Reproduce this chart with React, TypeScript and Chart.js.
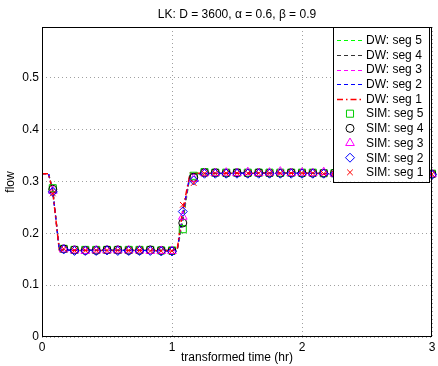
import React, { useEffect, useRef } from 'react';
import { Chart, registerables } from 'chart.js';

Chart.register(...registerables);

const titleText = 'LK: D = 3600, \u03b1 = 0.6, \u03b2 = 0.9';
const xLabel = 'transformed time (hr)';
const yLabel = 'flow';
const xTicks = [0, 1, 2, 3];
const yTicks = [0, 0.1, 0.2, 0.3, 0.4, 0.5];

// DW model curves
const dwTimes = [0, 0.05, 0.083, 0.133, 0.25, 0.5, 0.75, 1.0, 1.04, 1.083, 1.14, 1.5, 2.0, 2.5, 3.0];
const dwSeg5 = [0.315, 0.315, 0.284, 0.169, 0.168, 0.167, 0.167, 0.167, 0.167, 0.222, 0.314, 0.316, 0.316, 0.314, 0.314];
const dwSeg4 = [0.315, 0.315, 0.283, 0.169, 0.168, 0.167, 0.167, 0.167, 0.168, 0.228, 0.315, 0.316, 0.316, 0.314, 0.314];
const dwSeg3 = [0.315, 0.315, 0.282, 0.168, 0.168, 0.167, 0.167, 0.167, 0.168, 0.234, 0.315, 0.316, 0.316, 0.314, 0.314];
const dwSeg2 = [0.315, 0.315, 0.281, 0.168, 0.167, 0.167, 0.167, 0.166, 0.168, 0.240, 0.315, 0.316, 0.316, 0.314, 0.314];
const dwSeg1 = [0.315, 0.315, 0.280, 0.168, 0.167, 0.167, 0.167, 0.166, 0.169, 0.246, 0.316, 0.316, 0.316, 0.314, 0.314];

// Simulation samples (every 5 minutes)
const simTimes = [
  0.083, 0.167, 0.25, 0.333, 0.417, 0.5, 0.583, 0.667, 0.75, 0.833, 0.917, 1.0,
  1.083, 1.167, 1.25, 1.333, 1.417, 1.5, 1.583, 1.667, 1.75, 1.833, 1.917, 2.0,
  2.083, 2.167, 2.25, 2.333, 2.417, 2.5, 2.583, 2.667, 2.75, 2.833, 2.917, 3.0,
];
const simSeg5 = [
  0.287, 0.170, 0.168, 0.168, 0.168, 0.168, 0.168, 0.168, 0.168, 0.168, 0.167, 0.167,
  0.208, 0.311, 0.318, 0.317, 0.317, 0.317, 0.317, 0.317, 0.317, 0.317, 0.317, 0.317,
  0.317, 0.316, 0.316, 0.316, 0.316, 0.315, 0.315, 0.315, 0.315, 0.315, 0.315, 0.315,
];
const simSeg4 = [
  0.285, 0.170, 0.168, 0.167, 0.167, 0.168, 0.168, 0.167, 0.167, 0.168, 0.167, 0.166,
  0.220, 0.308, 0.317, 0.317, 0.316, 0.317, 0.316, 0.317, 0.316, 0.316, 0.317, 0.316,
  0.316, 0.316, 0.316, 0.315, 0.315, 0.315, 0.315, 0.315, 0.314, 0.314, 0.314, 0.314,
];
const simSeg3 = [
  0.282, 0.169, 0.167, 0.166, 0.167, 0.167, 0.167, 0.167, 0.167, 0.166, 0.166, 0.166,
  0.232, 0.305, 0.316, 0.316, 0.317, 0.316, 0.318, 0.316, 0.317, 0.319, 0.316, 0.317,
  0.316, 0.318, 0.315, 0.316, 0.317, 0.315, 0.315, 0.316, 0.314, 0.315, 0.314, 0.314,
];
const simSeg2 = [
  0.280, 0.169, 0.166, 0.166, 0.166, 0.167, 0.166, 0.166, 0.166, 0.166, 0.165, 0.165,
  0.242, 0.302, 0.315, 0.315, 0.315, 0.315, 0.315, 0.315, 0.315, 0.315, 0.315, 0.315,
  0.315, 0.315, 0.314, 0.314, 0.314, 0.314, 0.314, 0.314, 0.313, 0.313, 0.313, 0.313,
];
const simSeg1 = [
  0.277, 0.170, 0.167, 0.167, 0.167, 0.167, 0.167, 0.167, 0.167, 0.166, 0.166, 0.166,
  0.255, 0.297, 0.315, 0.316, 0.316, 0.316, 0.316, 0.316, 0.316, 0.316, 0.316, 0.316,
  0.316, 0.315, 0.315, 0.315, 0.315, 0.315, 0.314, 0.314, 0.314, 0.314, 0.314, 0.314,
];

const FONT = '"Liberation Sans", Arial, Helvetica, sans-serif';

const toXY = (xs: number[], ys: number[]) => xs.map((x, i) => ({ x, y: ys[i] }));

function drawMarker(ctx: CanvasRenderingContext2D, style: string, x: number, y: number, r: number, color: string) {
  ctx.save();
  ctx.strokeStyle = color;
  ctx.lineWidth = 1;
  ctx.setLineDash([]);
  ctx.beginPath();
  if (style === 'rect') {
    const s = r * Math.SQRT1_2;
    ctx.rect(x - s, y - s, 2 * s, 2 * s);
  } else if (style === 'circle') {
    ctx.arc(x, y, r, 0, Math.PI * 2);
  } else if (style === 'triangle') {
    ctx.moveTo(x, y - r);
    ctx.lineTo(x + r * 0.866, y + r * 0.5);
    ctx.lineTo(x - r * 0.866, y + r * 0.5);
    ctx.closePath();
  } else if (style === 'rectRot') {
    ctx.moveTo(x, y - r);
    ctx.lineTo(x + r, y);
    ctx.lineTo(x, y + r);
    ctx.lineTo(x - r, y);
    ctx.closePath();
  } else if (style === 'crossRot') {
    const o = r * Math.SQRT1_2;
    ctx.moveTo(x - o, y - o);
    ctx.lineTo(x + o, y + o);
    ctx.moveTo(x + o, y - o);
    ctx.lineTo(x - o, y + o);
  }
  ctx.stroke();
  ctx.restore();
}

// Title centred over the axes (MATLAB style)
const axesTitlePlugin = {
  id: 'axesTitle',
  afterDraw(chart: any) {
    const { ctx, chartArea: a } = chart;
    ctx.save();
    ctx.fillStyle = '#000';
    ctx.font = '12px ' + FONT;
    ctx.textAlign = 'center';
    ctx.textBaseline = 'middle';
    ctx.fillText(titleText, (a.left + a.right) / 2, a.top - 12.7);
    ctx.restore();
  },
};

const boxPlugin = {
  id: 'plotBox',
  afterDatasetsDraw(chart: any) {
    const { ctx, chartArea: a } = chart;
    ctx.save();
    ctx.strokeStyle = '#000';
    ctx.lineWidth = 1;
    ctx.setLineDash([]);
    ctx.strokeRect(Math.round(a.left) + 0.5, Math.round(a.top) + 0.5, Math.round(a.right - a.left) - 1, Math.round(a.bottom - a.top) - 1);
    ctx.restore();
  },
};

const legendPlugin = {
  id: 'boxLegend',
  afterDraw(chart: any) {
    const { ctx, chartArea: a } = chart;
    const items = chart.data.datasets;
    const rowH = 14.67;
    const w = 96;
    const right = Math.round(a.right) - 3;
    const left = right - w;
    const top = Math.round(a.top);
    const h = 6 + rowH * items.length + 2;
    ctx.save();
    ctx.fillStyle = '#fff';
    ctx.fillRect(left, top, w, h);
    ctx.strokeStyle = '#000';
    ctx.lineWidth = 1;
    ctx.strokeRect(left + 0.5, top + 0.5, w, Math.round(h));
    ctx.font = '12px ' + FONT;
    ctx.textBaseline = 'middle';
    ctx.textAlign = 'left';
    items.forEach((ds: any, i: number) => {
      const cy = top + 6 + rowH * (i + 0.5);
      if (ds.showLine !== false) {
        ctx.save();
        ctx.strokeStyle = ds.borderColor;
        ctx.lineWidth = ds.borderWidth;
        ctx.setLineDash(ds.borderDash || []);
        ctx.beginPath();
        ctx.moveTo(left + 4, Math.round(cy) + 0.5);
        ctx.lineTo(left + 31, Math.round(cy) + 0.5);
        ctx.stroke();
        ctx.restore();
      } else {
        drawMarker(ctx, ds.pointStyle, left + 17, cy, ds.pointRadius, ds.borderColor);
      }
      ctx.fillStyle = '#000';
      ctx.fillText(ds.label, left + 33, cy + 0.5);
    });
    ctx.restore();
  },
};

export default function App() {
  const ref = useRef<HTMLCanvasElement | null>(null);

  useEffect(() => {
    document.body.style.margin = '0';
    const canvas = ref.current;
    if (!canvas) return;

    const dw = (label: string, ys: number[], color: string, dash: number[], width = 1.2) => ({
      type: 'line' as const,
      label,
      data: toXY(dwTimes, ys),
      borderColor: color,
      backgroundColor: color,
      borderWidth: width,
      borderDash: dash,
      pointRadius: 0,
      showLine: true,
      fill: false,
      tension: 0,
    });
    const sim = (label: string, ys: number[], color: string, style: string, r: number) => ({
      type: 'line' as const,
      label,
      data: toXY(simTimes, ys),
      borderColor: color,
      backgroundColor: 'rgba(0,0,0,0)',
      borderWidth: 1,
      pointBorderWidth: 1,
      pointStyle: style,
      pointRadius: r,
      showLine: false,
      clip: false,
    });

    const datasets: any[] = [
      dw('DW: seg 5', dwSeg5, '#00ff00', [4, 3]),
      dw('DW: seg 4', dwSeg4, '#333333', [4, 3]),
      dw('DW: seg 3', dwSeg3, '#ff00ff', [4, 3]),
      dw('DW: seg 2', dwSeg2, '#0000ff', [4, 3]),
      dw('DW: seg 1', dwSeg1, '#ff0000', [6, 3, 1.5, 3], 1.5),
      sim('SIM: seg 5', simSeg5, '#00cc00', 'rect', 5),
      sim('SIM: seg 4', simSeg4, '#000000', 'circle', 4),
      sim('SIM: seg 3', simSeg3, '#ff00ff', 'triangle', 5),
      sim('SIM: seg 2', simSeg2, '#0000ff', 'rectRot', 4.5),
      sim('SIM: seg 1', simSeg1, '#ff0000', 'crossRot', 4),
    ];
    datasets.forEach((d, i) => (d.order = datasets.length - i));

    const chart = new Chart(canvas, {
      type: 'line',
      data: { datasets },
      options: {
        animation: false,
        responsive: false,
        devicePixelRatio: 1,
        layout: { padding: { top: 27, right: 0, left: 0, bottom: 0 } },
        plugins: {
          legend: { display: false },
          tooltip: { enabled: false },
          title: { display: false },
        },
        scales: {
          x: {
            type: 'linear',
            min: 0,
            max: 3,
            afterBuildTicks: (s: any) => {
              s.ticks = xTicks.map((v) => ({ value: v }));
            },
            afterFit: (s: any) => {
              s.height = 29;
              s.paddingRight = 3;
              s.paddingLeft = 0;
            },
            ticks: {
              color: '#000',
              font: { family: FONT, size: 12 },
              padding: 3,
              maxRotation: 0,
              callback: (v: any) => String(v),
            },
            grid: { color: '#a0a0a0', lineWidth: 1, drawTicks: false },
            border: { display: false, dash: [1, 3] },
            title: {
              display: true,
              text: xLabel,
              color: '#000',
              font: { family: FONT, size: 12 },
              padding: { top: 0, bottom: 1 },
            },
          },
          y: {
            type: 'linear',
            min: 0,
            max: 0.598,
            afterBuildTicks: (s: any) => {
              s.ticks = yTicks.map((v) => ({ value: v }));
            },
            afterFit: (s: any) => {
              s.width = 42;
              s.paddingTop = 0;
              s.paddingBottom = 0;
            },
            ticks: {
              color: '#000',
              font: { family: FONT, size: 12 },
              padding: 3,
              callback: (v: any) => (v === 0 ? '0' : Number(v).toFixed(1)),
            },
            grid: { color: '#a0a0a0', lineWidth: 1, drawTicks: false },
            border: { display: false, dash: [1, 3] },
            title: {
              display: true,
              text: yLabel,
              color: '#000',
              font: { family: FONT, size: 12 },
              padding: { top: 3, bottom: 0 },
            },
          },
        },
      },
      plugins: [boxPlugin, legendPlugin, axesTitlePlugin],
    } as any);

    return () => chart.destroy();
  }, []);

  return (
    <div style={{ width: 438, height: 366, background: '#fff' }}>
      <canvas ref={ref} width={438} height={366} style={{ width: 438, height: 366, display: 'block' }} />
    </div>
  );
}
